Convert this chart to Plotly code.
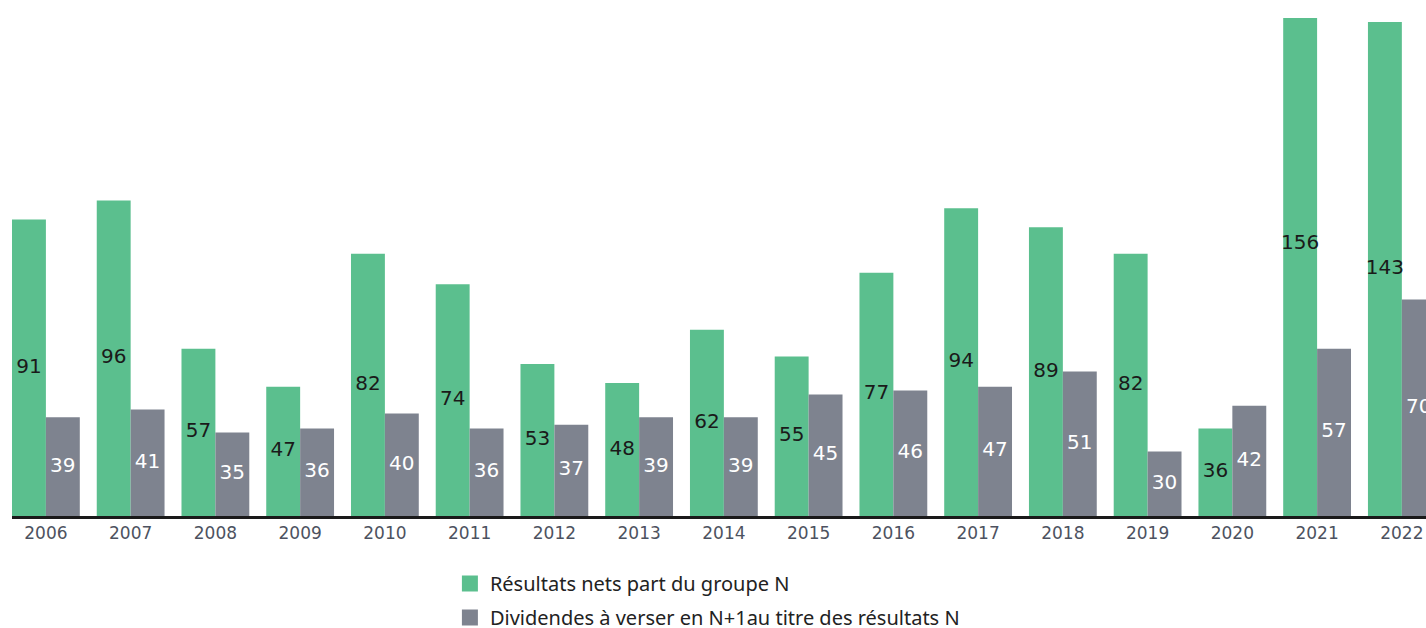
import plotly.graph_objects as go

years = list(range(2006, 2023))
resultats = [91, 96, 57, 47, 82, 74, 53, 48, 62, 55, 77, 94, 89, 82, 36, 156, 143]
dividendes = [39, 41, 35, 36, 40, 36, 37, 39, 39, 45, 46, 47, 51, 30, 42, 57, 70]
series_names = ["Résultats nets part du groupe N",
                "Dividendes à verser en N+1au titre des résultats N"]

GREEN = "#5bbf8e"
GRAY = "#7e838f"
Y0, Y1 = 13, 144.05
W = 0.4

fig = go.Figure()
fig.add_trace(go.Bar(x=years, y=resultats, width=W, offset=-W, marker_color=GREEN,
                     marker_line_width=0, showlegend=False, hoverinfo="skip"))
fig.add_trace(go.Bar(x=years, y=dividendes, width=W, offset=0, marker_color=GRAY,
                     marker_line_width=0, showlegend=False, hoverinfo="skip"))

# value labels at the middle of the visible part of each bar
fig.add_trace(go.Scatter(x=[y - W / 2 for y in years], y=[(Y0 + v) / 2 for v in resultats],
                         mode="text", text=[str(v) for v in resultats],
                         textfont=dict(family="DejaVu Sans", size=20, color="#1a1a1a"),
                         cliponaxis=False, showlegend=False, hoverinfo="skip"))
fig.add_trace(go.Scatter(x=[y + W / 2 for y in years], y=[(Y0 + v) / 2 for v in dividendes],
                         mode="text", text=[str(v) for v in dividendes],
                         textfont=dict(family="DejaVu Sans", size=20, color="white"),
                         cliponaxis=False, showlegend=False, hoverinfo="skip"))

# legend entries
for name, col, grp in zip(series_names, [GREEN, GRAY], ["a", "b"]):
    fig.add_trace(go.Scatter(x=[None], y=[None], mode="markers", name=name, legendgroup=grp,
                             marker=dict(symbol="square", size=16, color=col)))

fig.update_layout(
    width=1426, height=628,
    margin=dict(l=12, r=0, t=18, b=112, autoexpand=False),
    plot_bgcolor="white", paper_bgcolor="white",
    barmode="overlay",
    xaxis=dict(range=[2005.6, 2022.285], tickvals=years, ticktext=[str(y) for y in years],
               showline=True, linecolor="#1a1a1a", linewidth=2.5, showgrid=False,
               zeroline=False, ticks="", automargin=False,
               tickfont=dict(family="DejaVu Sans", size=17, color="#4d5260")),
    yaxis=dict(range=[Y0, Y1], visible=False, showgrid=False, zeroline=False),
    legend=dict(xref="container", yref="container", x=0.3155, xanchor="left",
                y=1 - 564 / 628, yanchor="top",
                font=dict(family="Noto Sans", size=20, color="#222222"),
                traceorder="grouped", tracegroupgap=5, itemwidth=30),
    showlegend=True,
)

fig.write_html("out.html")
